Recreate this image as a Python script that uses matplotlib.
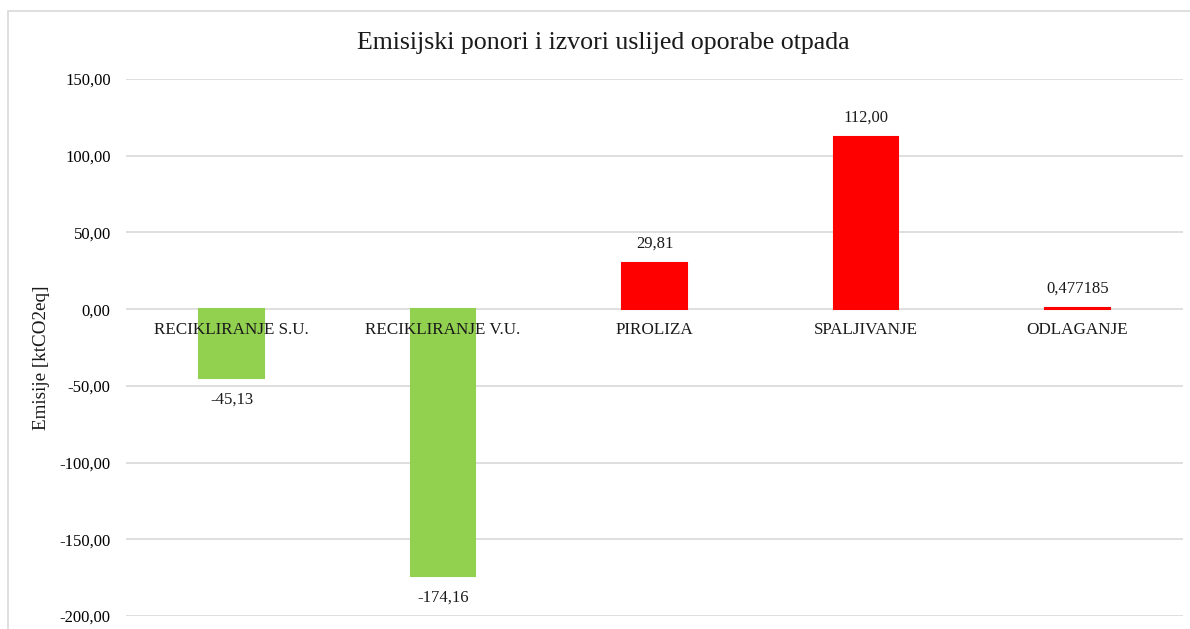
import matplotlib.pyplot as plt
from matplotlib.patches import Rectangle

categories = ['RECIKLIRANJE S.U.', 'RECIKLIRANJE V.U.', 'PIROLIZA', 'SPALJIVANJE', 'ODLAGANJE']
values = [-45.13, -174.16, 29.81, 112.00, 0.477185]
value_labels = ['-45,13', '-174,16', '29,81', '112,00', '0,477185']
bar_colors = ['#92D050', '#92D050', '#FF0000', '#FF0000', '#FF0000']
y_ticks = [-200, -150, -100, -50, 0, 50, 100, 150]

plt.rcParams['font.family'] = ['Liberation Serif', 'DejaVu Serif']

W, H = 1190, 629
fig = plt.figure(figsize=(W / 100, H / 100), dpi=100)

# chart area border (Excel style), cut off at right/bottom
fig.patches.append(Rectangle((8 / W, -0.1), 1.2, (H - 11) / H + 0.1,
                             transform=fig.transFigure, fill=False,
                             edgecolor='#D9D9D9', linewidth=1.2))

left, right, top, bottom = 126, 1183, 79, 616
ax = fig.add_axes([left / W, (H - bottom) / H, (right - left) / W, (bottom - top) / H])

x = list(range(len(categories)))
ax.bar(x, values, width=0.305, color=bar_colors, edgecolor=bar_colors,
       linewidth=1.5, zorder=3)

ax.set_xlim(-0.5, len(categories) - 0.5)
ax.set_ylim(-200, 150)
ax.set_yticks(y_ticks)
ax.set_yticklabels(['{:.2f}'.format(v).replace('.', ',') for v in y_ticks], fontsize=12)
ax.grid(axis='y', color='#D9D9D9', linewidth=1.2, zorder=0)
ax.set_xticks([])
ax.tick_params(axis='y', length=0, pad=11)
for s in ax.spines.values():
    s.set_visible(False)

# category labels sit on the zero line
for xi, c in zip(x, categories):
    ax.annotate(c, (xi, 0), xytext=(0, -15), textcoords='offset points',
                ha='center', va='center', fontsize=12.3, color='#1a1a1a', zorder=4)

for xi, v, lab in zip(x, values, value_labels):
    off = 14 if v >= 0 else -15
    ax.annotate(lab, (xi, v), xytext=(0, off), textcoords='offset points',
                ha='center', va='center', fontsize=12, color='#1a1a1a', zorder=4)

ax.set_ylabel('Emisije [ktCO2eq]', fontsize=13.8, color='#1a1a1a')
ax.yaxis.set_label_coords(-76 / (right - left), 0.48)

fig.text(603 / W, 1 - 43 / H, 'Emisijski ponori i izvori uslijed oporabe otpada',
         ha='center', va='center', fontsize=18.6, color='#1a1a1a')

fig.savefig('out.png', dpi=100)
